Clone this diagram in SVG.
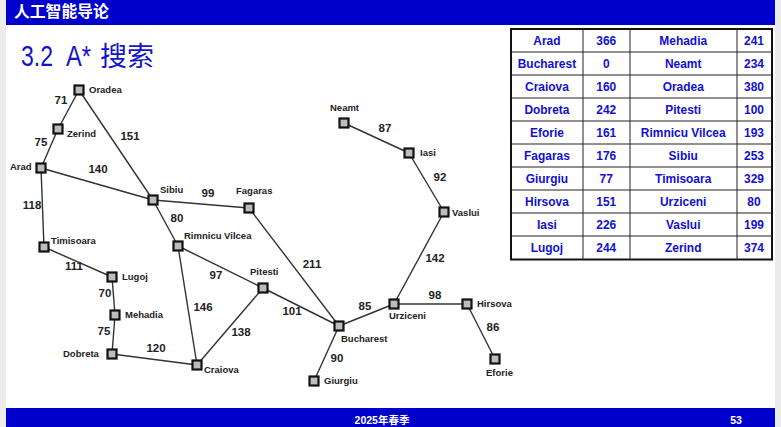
<svg xmlns="http://www.w3.org/2000/svg" width="781" height="427" viewBox="0 0 781 427">
<style>
text{font-family:"Liberation Sans","Noto Sans CJK SC",sans-serif}
.n rect{fill:#bdbdbd;stroke:#111;stroke-width:2.2}
.c line{stroke:#333;stroke-width:1.4}
.l{font-size:9.5px;font-weight:700;fill:#222}
.w{font-size:11.5px;font-weight:700;fill:#222;text-anchor:middle}
.t text{font-size:13.5px;font-weight:700;fill:#1010d0;text-anchor:middle}
.g line{stroke:#222;stroke-width:1}
.h{fill:#1414c8}
</style>
<rect width="781" height="427" fill="#ececec"/>
<rect x="6" y="0" width="769" height="427" fill="#fff"/>
<rect x="6" y="0" width="769" height="25" fill="#0000cc"/>
<rect x="6" y="408" width="769" height="19" fill="#0000cc"/>
<text x="14" y="17" font-size="15.800" font-weight="700" fill="#fff" style="font-family:'Noto Sans CJK SC',sans-serif">人工智能导论</text>
<text class="h" x="21" y="66" font-size="29" textLength="32" lengthAdjust="spacingAndGlyphs">3.2</text>
<text class="h" x="66" y="66" font-size="29" textLength="25" lengthAdjust="spacingAndGlyphs">A*</text>
<text class="h" x="100" y="66" font-size="27">搜索</text>
<text x="382" y="424" font-size="10.500" font-weight="700" fill="#fff" text-anchor="middle">2025年春季</text>
<text x="736" y="424" font-size="10.500" font-weight="700" fill="#fff" text-anchor="middle">53</text>

<g id="connectors" class="c">
<line x1="79" y1="90" x2="58" y2="129"/>
<line x1="58" y1="129" x2="41" y2="168"/>
<line x1="79" y1="90" x2="153" y2="200"/>
<line x1="41" y1="168" x2="153" y2="200"/>
<line x1="41" y1="168" x2="44" y2="247"/>
<line x1="44" y1="247" x2="112" y2="277"/>
<line x1="112" y1="277" x2="115" y2="315"/>
<line x1="115" y1="315" x2="112" y2="354"/>
<line x1="112" y1="354" x2="197" y2="365"/>
<line x1="153" y1="200" x2="249" y2="208"/>
<line x1="153" y1="200" x2="178" y2="246"/>
<line x1="178" y1="246" x2="197" y2="365"/>
<line x1="178" y1="246" x2="263" y2="288"/>
<line x1="197" y1="365" x2="263" y2="288"/>
<line x1="263" y1="288" x2="339" y2="326"/>
<line x1="249" y1="208" x2="339" y2="326"/>
<line x1="339" y1="326" x2="314" y2="381"/>
<line x1="339" y1="326" x2="394" y2="304"/>
<line x1="394" y1="304" x2="467" y2="304"/>
<line x1="467" y1="304" x2="495" y2="359"/>
<line x1="394" y1="304" x2="444" y2="212"/>
<line x1="444" y1="212" x2="409" y2="153"/>
<line x1="409" y1="153" x2="344" y2="123"/>
</g>

<g id="edge-labels">
<text class="w" x="61" y="104">71</text>
<text class="w" x="41" y="146">75</text>
<text class="w" x="130" y="140">151</text>
<text class="w" x="98" y="173">140</text>
<text class="w" x="32" y="209">118</text>
<text class="w" x="208" y="197">99</text>
<text class="w" x="177" y="222">80</text>
<text class="w" x="74" y="270">111</text>
<text class="w" x="105" y="297">70</text>
<text class="w" x="104" y="335">75</text>
<text class="w" x="156" y="352">120</text>
<text class="w" x="216" y="279">97</text>
<text class="w" x="203" y="311">146</text>
<text class="w" x="241" y="336">138</text>
<text class="w" x="292" y="315">101</text>
<text class="w" x="312" y="268">211</text>
<text class="w" x="365" y="310">85</text>
<text class="w" x="435" y="299">98</text>
<text class="w" x="493" y="331">86</text>
<text class="w" x="337" y="362">90</text>
<text class="w" x="435" y="262">142</text>
<text class="w" x="440" y="181">92</text>
<text class="w" x="385" y="132">87</text>
</g>

<g id="oradea" class="n"><rect x="74.500" y="85.500" width="9" height="9"/><text class="l" x="89" y="93">Oradea</text></g>
<g id="zerind" class="n"><rect x="53.500" y="124.500" width="9" height="9"/><text class="l" x="67" y="137">Zerind</text></g>
<g id="arad" class="n"><rect x="36.500" y="163.500" width="9" height="9"/><text class="l" x="10" y="170">Arad</text></g>
<g id="sibiu" class="n"><rect x="148.500" y="195.500" width="9" height="9"/><text class="l" x="160" y="193">Sibiu</text></g>
<g id="fagaras" class="n"><rect x="244.500" y="203.500" width="9" height="9"/><text class="l" x="236" y="194">Fagaras</text></g>
<g id="timisoara" class="n"><rect x="39.500" y="242.500" width="9" height="9"/><text class="l" x="51" y="244">Timisoara</text></g>
<g id="rimnicu-vilcea" class="n"><rect x="173.500" y="241.500" width="9" height="9"/><text class="l" x="184" y="239">Rimnicu Vilcea</text></g>
<g id="lugoj" class="n"><rect x="107.500" y="272.500" width="9" height="9"/><text class="l" x="122" y="280">Lugoj</text></g>
<g id="mehadia" class="n"><rect x="110.500" y="310.500" width="9" height="9"/><text class="l" x="125" y="318">Mehadia</text></g>
<g id="dobreta" class="n"><rect x="107.500" y="349.500" width="9" height="9"/><text class="l" x="63" y="357">Dobreta</text></g>
<g id="craiova" class="n"><rect x="192.500" y="360.500" width="9" height="9"/><text class="l" x="204" y="373">Craiova</text></g>
<g id="pitesti" class="n"><rect x="258.500" y="283.500" width="9" height="9"/><text class="l" x="250" y="275">Pitesti</text></g>
<g id="bucharest" class="n"><rect x="334.500" y="321.500" width="9" height="9"/><text class="l" x="341" y="342">Bucharest</text></g>
<g id="urziceni" class="n"><rect x="389.500" y="299.500" width="9" height="9"/><text class="l" x="389" y="319">Urziceni</text></g>
<g id="hirsova" class="n"><rect x="462.500" y="299.500" width="9" height="9"/><text class="l" x="477" y="307">Hirsova</text></g>
<g id="eforie" class="n"><rect x="490.500" y="354.500" width="9" height="9"/><text class="l" x="486" y="376">Eforie</text></g>
<g id="giurgiu" class="n"><rect x="309.500" y="376.500" width="9" height="9"/><text class="l" x="324" y="384">Giurgiu</text></g>
<g id="vaslui" class="n"><rect x="439.500" y="207.500" width="9" height="9"/><text class="l" x="452" y="216">Vaslui</text></g>
<g id="iasi" class="n"><rect x="404.500" y="148.500" width="9" height="9"/><text class="l" x="420" y="156">Iasi</text></g>
<g id="neamt" class="n"><rect x="339.500" y="118.500" width="9" height="9"/><text class="l" x="330" y="111">Neamt</text></g>

<g id="heuristic-table">
<rect x="511" y="29" width="261" height="230.500" fill="#fff" stroke="#111" stroke-width="2"/>
<g class="g">
<line x1="583" y1="29" x2="583" y2="260"/><line x1="630" y1="29" x2="630" y2="260"/><line x1="737" y1="29" x2="737" y2="260"/>
<line x1="511" y1="52" x2="772" y2="52"/><line x1="511" y1="75" x2="772" y2="75"/><line x1="511" y1="98" x2="772" y2="98"/><line x1="511" y1="121" x2="772" y2="121"/><line x1="511" y1="144" x2="772" y2="144"/><line x1="511" y1="167" x2="772" y2="167"/><line x1="511" y1="190" x2="772" y2="190"/><line x1="511" y1="213" x2="772" y2="213"/><line x1="511" y1="236" x2="772" y2="236"/>
</g>
<g class="t" transform="translate(0 -1) scale(.885 1)">
<text x="618" y="46">Arad</text><text x="685" y="46">366</text><text x="772" y="46">Mehadia</text><text x="852" y="46">241</text>
<text x="618" y="69">Bucharest</text><text x="685" y="69">0</text><text x="772" y="69">Neamt</text><text x="852" y="69">234</text>
<text x="618" y="92">Craiova</text><text x="685" y="92">160</text><text x="772" y="92">Oradea</text><text x="852" y="92">380</text>
<text x="618" y="115">Dobreta</text><text x="685" y="115">242</text><text x="772" y="115">Pitesti</text><text x="852" y="115">100</text>
<text x="618" y="138">Eforie</text><text x="685" y="138">161</text><text x="772" y="138">Rimnicu Vilcea</text><text x="852" y="138">193</text>
<text x="618" y="161">Fagaras</text><text x="685" y="161">176</text><text x="772" y="161">Sibiu</text><text x="852" y="161">253</text>
<text x="618" y="184">Giurgiu</text><text x="685" y="184">77</text><text x="772" y="184">Timisoara</text><text x="852" y="184">329</text>
<text x="618" y="207">Hirsova</text><text x="685" y="207">151</text><text x="772" y="207">Urziceni</text><text x="852" y="207">80</text>
<text x="618" y="230">Iasi</text><text x="685" y="230">226</text><text x="772" y="230">Vaslui</text><text x="852" y="230">199</text>
<text x="618" y="253">Lugoj</text><text x="685" y="253">244</text><text x="772" y="253">Zerind</text><text x="852" y="253">374</text>
</g>
</g>
</svg>
